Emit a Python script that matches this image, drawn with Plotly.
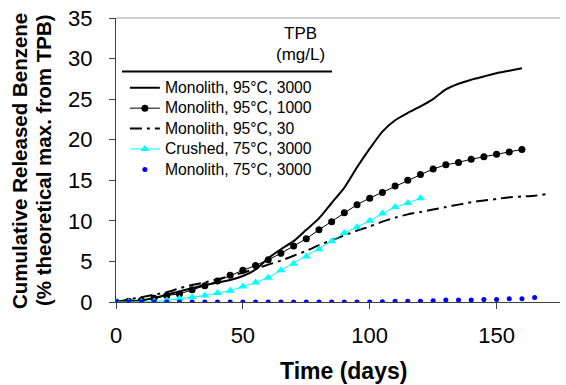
import plotly.graph_objects as go

# ---- data ----
days_3000_95 = [0, 5, 10, 15, 20, 25, 30, 35, 40, 45, 50, 55, 60, 65, 70, 75, 80, 85, 90, 95,
                100, 105, 110, 115, 120, 125, 130, 135, 140, 145, 150, 155, 160]
vals_3000_95 = [0, 0.1, 0.2, 0.5, 0.9, 1.3, 1.7, 2.1, 2.4, 2.7, 3.2, 4.0, 5.4, 6.5, 7.5, 8.9, 10.3,
                12.2, 14.1, 16.6, 18.9, 21.0, 22.4, 23.3, 24.1, 25.0, 26.2, 26.9, 27.4, 27.8, 28.2,
                28.5, 28.8]

days_1000_95 = [0, 5, 10, 15, 20, 25, 30, 35, 40, 45, 50, 55, 60, 65, 70, 75, 80, 85, 90, 95,
                100, 105, 110, 115, 120, 125, 130, 135, 140, 145, 150, 155, 160]
vals_1000_95 = [0, 0.1, 0.2, 0.45, 0.8, 1.0, 1.5, 2.0, 2.6, 3.3, 3.9, 4.5, 5.2, 6.0, 6.9, 7.8,
                8.9, 9.9, 11.0, 12.0, 12.8, 13.5, 14.3, 15.0, 15.7, 16.4, 16.9, 17.2, 17.6, 17.9,
                18.2, 18.5, 18.8]

days_30_95 = [0, 5, 10, 15, 20, 25, 30, 35, 40, 45, 50, 55, 60, 65, 70, 75, 80, 85, 90, 95,
              100, 105, 110, 115, 120, 125, 130, 135, 140, 145, 150, 155, 160, 165, 170]
vals_30_95 = [0, 0.3, 0.6, 0.9, 1.2, 1.7, 2.1, 2.4, 2.8, 3.2, 3.6, 4.1, 4.6, 5.1, 5.7, 6.3, 7.0,
              7.6, 8.2, 8.8, 9.3, 9.9, 10.4, 10.8, 11.1, 11.4, 11.7, 12.0, 12.3, 12.5, 12.7,
              12.9, 13.0, 13.1, 13.3]

days_crushed = [0, 5, 10, 15, 20, 25, 30, 35, 40, 45, 50, 55, 60, 65, 70, 75, 80, 85, 90, 95,
                100, 105, 110, 115, 120]
vals_crushed = [0, 0, 0, 0.05, 0.2, 0.4, 0.6, 0.8, 1.1, 1.4, 1.9, 2.4, 3.0, 3.9, 4.7, 5.6, 6.5,
                7.5, 8.5, 9.2, 10.0, 10.9, 11.7, 12.2, 12.8]

days_3000_75 = [0, 5, 10, 15, 20, 25, 30, 35, 40, 45, 50, 55, 60, 65, 70, 75, 80, 85, 90, 95,
                100, 105, 110, 115, 120, 125, 130, 135, 140, 145, 150, 155, 160, 165]
vals_3000_75 = [0, 0, 0, 0, 0, 0, 0, 0, 0, 0, 0, 0, 0, 0, 0, 0, 0, 0, 0, 0, 0, 0.02, 0.1, 0.1,
                0.1, 0.15, 0.25, 0.25, 0.25, 0.3, 0.3, 0.4, 0.4, 0.55]

names = ["Monolith, 95°C, 3000", "Monolith, 95°C, 1000", "Monolith, 95°C, 30",
         "Crushed, 75°C, 3000", "Monolith, 75°C, 3000"]
x_ticks = [0, 50, 100, 150]
y_ticks = [0, 5, 10, 15, 20, 25, 30, 35]

FONT = "Arial, Liberation Sans, sans-serif"


def lg(name):
    # larger visible legend text while keeping the compact Excel-like row spacing
    return "<span style='font-size:15.7px'>" + name + "</span>"


fig = go.Figure()
fig.add_trace(go.Scatter(x=days_3000_95, y=vals_3000_95, name=lg(names[0]), mode="lines",
                         line=dict(color="black", width=2, shape="spline", smoothing=0.6)))
fig.add_trace(go.Scatter(x=days_1000_95, y=vals_1000_95, name=lg(names[1]), mode="lines+markers",
                         line=dict(color="black", width=1),
                         marker=dict(color="black", size=7, symbol="circle")))
fig.add_trace(go.Scatter(x=days_30_95, y=vals_30_95, name=lg(names[2]), mode="lines",
                         line=dict(color="black", width=2, dash="12px,5px,3px,5px",
                                   shape="spline", smoothing=0.6)))
fig.add_trace(go.Scatter(x=days_crushed, y=vals_crushed, name=lg(names[3]), mode="lines+markers",
                         line=dict(color="#00FFFF", width=1),
                         marker=dict(color="#00FFFF", size=8, symbol="triangle-up")))
fig.add_trace(go.Scatter(x=days_3000_75, y=vals_3000_75, name=lg(names[4]), mode="markers",
                         marker=dict(color="#0000FF", size=5, symbol="circle")))

fig.update_layout(
    width=566, height=385,
    margin=dict(l=116, r=6, t=16, b=83),
    paper_bgcolor="white", plot_bgcolor="white",
    font=dict(family=FONT, color="black"),
    showlegend=True,
    legend=dict(x=0.02, y=0.808, xanchor="left", yanchor="top",
                bgcolor="rgba(0,0,0,0)", font=dict(size=13.4, family=FONT),
                tracegroupgap=0, itemwidth=30),
    xaxis=dict(range=[0, 175], tickvals=x_ticks, ticks="outside", ticklen=6,
               tickcolor="#404040", showline=True, linecolor="#404040", linewidth=1,
               showgrid=False, zeroline=False, ticklabelstandoff=8,
               tickfont=dict(size=22, family=FONT)),
    yaxis=dict(range=[0, 35], tickvals=y_ticks, ticks="outside", ticklen=6,
               tickcolor="#404040", showline=True, linecolor="#404040", linewidth=1,
               showgrid=False, zeroline=False, ticklabelstandoff=12,
               tickfont=dict(size=22, family=FONT)),
)

# top border of the plot area
fig.add_shape(type="line", xref="paper", yref="paper", x0=0, x1=1, y0=1, y1=1,
              line=dict(color="#A0A0A0", width=1))

# legend header
fig.add_annotation(text="TPB", xref="paper", yref="paper", x=(300 - 116) / 444,
                   y=(302 - 32) / 286, showarrow=False, font=dict(size=17, family=FONT),
                   xanchor="center", yanchor="middle")
fig.add_annotation(text="(mg/L)", xref="paper", yref="paper", x=(300 - 116) / 444,
                   y=(302 - 53) / 286, showarrow=False, font=dict(size=17, family=FONT),
                   xanchor="center", yanchor="middle")
fig.add_shape(type="line", xref="paper", yref="paper", x0=(122 - 116) / 444,
              x1=(332 - 116) / 444, y0=(302 - 70) / 286, y1=(302 - 70) / 286,
              line=dict(color="black", width=2))

# axis titles
fig.add_annotation(text="<b>Time (days)</b>", xref="paper", yref="paper", x=(343 - 116) / 444,
                   y=(302 - 371) / 286, showarrow=False, font=dict(size=23, family=FONT),
                   xanchor="center", yanchor="middle")
fig.add_annotation(text="<b>Cumulative Released Benzene</b>", xref="paper", yref="paper",
                   x=(20 - 116) / 444, y=(302 - 160) / 286, showarrow=False, textangle=-90,
                   font=dict(size=20.5, family=FONT), xanchor="center", yanchor="middle")
fig.add_annotation(text="<b>(% theoretical max. from TPB)</b>", xref="paper", yref="paper",
                   x=(43 - 116) / 444, y=(302 - 159) / 286, showarrow=False, textangle=-90,
                   font=dict(size=20.5, family=FONT), xanchor="center", yanchor="middle")

fig.write_html("out.html")
